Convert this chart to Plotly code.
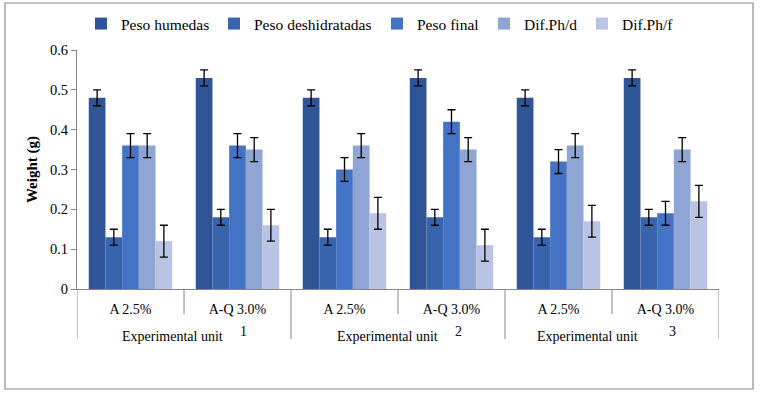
import plotly.graph_objects as go

# ---- data ----
units = ["1", "1", "2", "2", "3", "3"]
treatments = ["A 2.5%", "A-Q 3.0%", "A 2.5%", "A-Q 3.0%", "A 2.5%", "A-Q 3.0%"]
categories = [f"{t} ({u})" for t, u in zip(treatments, units)]

series_names = ["Peso humedas", "Peso deshidratadas", "Peso final", "Dif.Ph/d", "Dif.Ph/f"]
peso_humedas = [0.48, 0.53, 0.48, 0.53, 0.48, 0.53]
peso_deshidratadas = [0.13, 0.18, 0.13, 0.18, 0.13, 0.18]
peso_final = [0.36, 0.36, 0.30, 0.42, 0.32, 0.19]
dif_ph_d = [0.36, 0.35, 0.36, 0.35, 0.36, 0.35]
dif_ph_f = [0.12, 0.16, 0.19, 0.11, 0.17, 0.22]

err_humedas = [0.02] * 6
err_deshidratadas = [0.02] * 6
err_final = [0.03] * 6
err_dif_d = [0.03] * 6
err_dif_f = [0.04] * 6

y_ticks = [0, 0.1, 0.2, 0.3, 0.4, 0.5, 0.6]
y_tick_text = ["0", "0.1", "0.2", "0.3", "0.4", "0.5", "0.6"]
unit_labels = ["1", "2", "3"]

values = [peso_humedas, peso_deshidratadas, peso_final, dif_ph_d, dif_ph_f]
errors = [err_humedas, err_deshidratadas, err_final, err_dif_d, err_dif_f]
colors = ["#2F5597", "#3864AD", "#4472C4", "#8FA5D4", "#B9C4E4"]

# ---- layout geometry (pixels) ----
W, H = 761, 397
PL, PR, PT, PB = 77, 719, 50, 289
pw, ph = PR - PL, PB - PT


def px(x):
    return (x - PL) / pw


def py(y):
    return (PB - y) / ph


FONT = "Liberation Serif"
AX = "#868686"

fig = go.Figure()
legend_text_x = [121, 254, 417, 524, 622]
legend_ids = ["legend", "legend2", "legend3", "legend4", "legend5"]
for name, v, e, c, lid in zip(series_names, values, errors, colors, legend_ids):
    fig.add_trace(go.Bar(
        name=name, x=categories, y=v, marker=dict(color=c, line=dict(width=0)),
        error_y=dict(type="data", array=e, visible=True, color="black", thickness=1.3, width=4),
        legend=lid, showlegend=True,
    ))

legend_layouts = {}
for lid, tx in zip(legend_ids, legend_text_x):
    legend_layouts[lid] = dict(
        x=px(tx - 40), y=py(24), xanchor="left", yanchor="middle",
        orientation="h", font=dict(family=FONT, size=15.5, color="black"),
        bgcolor="rgba(0,0,0,0)", borderwidth=0,
    )

shapes = []
# outer chart border
shapes.append(dict(type="rect", xref="paper", yref="paper",
                   x0=px(5), x1=px(753), y0=py(389), y1=py(3),
                   line=dict(color="#8c8c8c", width=1.2), fillcolor="rgba(0,0,0,0)", layer="below"))
# category dividers
for i in range(len(categories) + 1):
    bottom = 339 if i % 2 == 0 else 314
    shapes.append(dict(type="line", xref="x", yref="paper",
                       x0=i - 0.5, x1=i - 0.5, y0=0, y1=py(bottom),
                       line=dict(color=AX, width=1)))

annotations = []
unit_text_x = [172, 387, 587]
unit_num_x = [244, 458, 672]
for k, u in enumerate(unit_labels):
    annotations.append(dict(text="Experimental unit", xref="paper", yref="paper",
                            x=px(unit_text_x[k]), y=py(336), showarrow=False,
                            xanchor="center", yanchor="middle",
                            font=dict(family=FONT, size=14, color="black")))
    annotations.append(dict(text=u, xref="paper", yref="paper",
                            x=px(unit_num_x[k]), y=py(331), showarrow=False,
                            xanchor="center", yanchor="middle",
                            font=dict(family=FONT, size=14, color="black")))

fig.update_layout(
    width=W, height=H,
    margin=dict(l=PL, r=W - PR, t=PT, b=H - PB, pad=0, autoexpand=False),
    paper_bgcolor="white", plot_bgcolor="white",
    barmode="group", bargap=0.22, bargroupgap=0,
    showlegend=True,
    font=dict(family=FONT, size=14, color="black"),
    shapes=shapes, annotations=annotations,
    **legend_layouts,
)
fig.update_xaxes(
    type="category", categoryorder="array", categoryarray=categories,
    tickmode="array", tickvals=categories, ticktext=treatments,
    showline=True, linecolor=AX, linewidth=1, ticks="", showgrid=False,
    tickfont=dict(family=FONT, size=14, color="black"), ticklabelstandoff=7,
    range=[-0.5, len(categories) - 0.5],
)
fig.update_yaxes(
    range=[0, 0.6], tickmode="array", tickvals=y_ticks, ticktext=y_tick_text,
    showline=True, linecolor=AX, linewidth=1, ticks="outside", ticklen=5, tickcolor=AX,
    showgrid=False, zeroline=False,
    tickfont=dict(family=FONT, size=14.5, color="black"),
    title=dict(text="<b>Weight (g)</b>", font=dict(family=FONT, size=15, color="black"), standoff=8),
)

fig.write_html("out.html", config={"displayModeBar": False},
               post_script="document.body.style.margin='0px';")
